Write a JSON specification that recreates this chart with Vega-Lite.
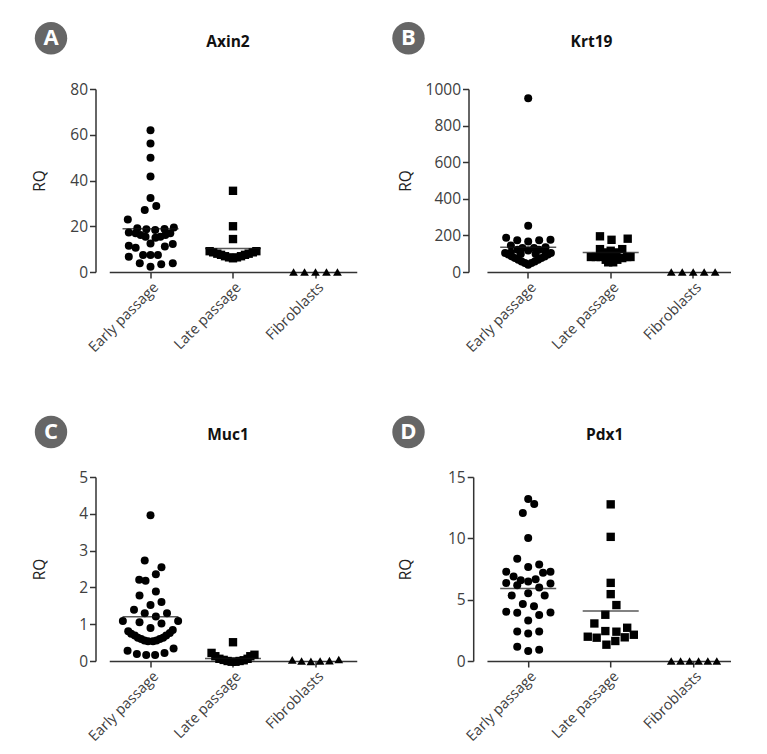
{"$schema":"https://vega.github.io/schema/vega-lite/v6.json","background":"white","padding":{"left":32.5,"top":22,"right":0,"bottom":0},"bounds":"flush","spacing":388,
"config":{"view":{"stroke":null},"font":"Open Sans","title":{"font":"Open Sans","fontSize":15.5,"fontWeight":"bold","color":"#111","offset":-28},
"axis":{"grid":false,"domainColor":"#333","tickColor":"#333","domainWidth":1.5,"tickWidth":1.5,"tickSize":6,"labelColor":"#404040","labelFont":"Open Sans","titleFont":"Open Sans","titleFontSize":15.5,"titleFontWeight":"normal","titleColor":"#222"},"axisX":{"labelFontSize":14.5,"labelOffset":6},"axisY":{"labelFontSize":15.5}},
"datasets":{
"axin2":[{"group":"Early passage","swarm":0,"RQ":62},{"group":"Early passage","swarm":0,"RQ":56.2},{"group":"Early passage","swarm":0,"RQ":49.9},{"group":"Early passage","swarm":0,"RQ":41.8},{"group":"Early passage","swarm":0,"RQ":32.3},{"group":"Early passage","swarm":0.07,"RQ":28.9},{"group":"Early passage","swarm":-0.07,"RQ":27.1},{"group":"Early passage","swarm":-0.275,"RQ":23},{"group":"Early passage","swarm":-0.16,"RQ":19.1},{"group":"Early passage","swarm":-0.05,"RQ":18.7},{"group":"Early passage","swarm":0.057,"RQ":18.4},{"group":"Early passage","swarm":0.17,"RQ":18.8},{"group":"Early passage","swarm":0.283,"RQ":19.4},{"group":"Early passage","swarm":-0.263,"RQ":17.3},{"group":"Early passage","swarm":-0.18,"RQ":16.9},{"group":"Early passage","swarm":-0.12,"RQ":16.2},{"group":"Early passage","swarm":-0.06,"RQ":15.4},{"group":"Early passage","swarm":0.06,"RQ":15},{"group":"Early passage","swarm":0.12,"RQ":15.4},{"group":"Early passage","swarm":0.18,"RQ":16.2},{"group":"Early passage","swarm":0.24,"RQ":16.9},{"group":"Early passage","swarm":0,"RQ":12.5},{"group":"Early passage","swarm":-0.263,"RQ":11.5},{"group":"Early passage","swarm":-0.18,"RQ":10.6},{"group":"Early passage","swarm":0.174,"RQ":11.1},{"group":"Early passage","swarm":0.27,"RQ":12.2},{"group":"Early passage","swarm":-0.09,"RQ":7.4},{"group":"Early passage","swarm":0,"RQ":7.4},{"group":"Early passage","swarm":0.09,"RQ":7.4},{"group":"Early passage","swarm":-0.263,"RQ":6.7},{"group":"Early passage","swarm":-0.13,"RQ":3.8},{"group":"Early passage","swarm":0,"RQ":2.3},{"group":"Early passage","swarm":0.13,"RQ":3.4},{"group":"Early passage","swarm":0.27,"RQ":3.8},
{"group":"Late passage","swarm":0,"RQ":35.5},{"group":"Late passage","swarm":0,"RQ":20},{"group":"Late passage","swarm":0,"RQ":14.4},{"group":"Late passage","swarm":-0.283,"RQ":9.1},{"group":"Late passage","swarm":-0.24,"RQ":8.6},{"group":"Late passage","swarm":-0.19,"RQ":8},{"group":"Late passage","swarm":-0.145,"RQ":7.5},{"group":"Late passage","swarm":-0.097,"RQ":6.9},{"group":"Late passage","swarm":-0.048,"RQ":6.4},{"group":"Late passage","swarm":0,"RQ":6},{"group":"Late passage","swarm":0.048,"RQ":6.4},{"group":"Late passage","swarm":0.097,"RQ":6.9},{"group":"Late passage","swarm":0.145,"RQ":7.5},{"group":"Late passage","swarm":0.19,"RQ":8},{"group":"Late passage","swarm":0.24,"RQ":8.6},{"group":"Late passage","swarm":0.283,"RQ":9.1},
{"group":"Fibroblasts","swarm":-0.266,"RQ":0},{"group":"Fibroblasts","swarm":-0.133,"RQ":0},{"group":"Fibroblasts","swarm":0,"RQ":0},{"group":"Fibroblasts","swarm":0.133,"RQ":0},{"group":"Fibroblasts","swarm":0.266,"RQ":0}],
"krt19":[{"group":"Early passage","swarm":0,"RQ":949},{"group":"Early passage","swarm":0,"RQ":253},{"group":"Early passage","swarm":-0.267,"RQ":187},{"group":"Early passage","swarm":-0.133,"RQ":173},{"group":"Early passage","swarm":0,"RQ":167},{"group":"Early passage","swarm":0.133,"RQ":173},{"group":"Early passage","swarm":0.27,"RQ":176},{"group":"Early passage","swarm":-0.21,"RQ":145},{"group":"Early passage","swarm":0.21,"RQ":135},{"group":"Early passage","swarm":-0.07,"RQ":131},{"group":"Early passage","swarm":0.07,"RQ":131},{"group":"Early passage","swarm":-0.13,"RQ":122},{"group":"Early passage","swarm":0.13,"RQ":122},{"group":"Early passage","swarm":0,"RQ":118},{"group":"Early passage","swarm":-0.21,"RQ":107},{"group":"Early passage","swarm":0.21,"RQ":107},{"group":"Early passage","swarm":-0.09,"RQ":98},{"group":"Early passage","swarm":0.09,"RQ":98},{"group":"Early passage","swarm":-0.28,"RQ":104},{"group":"Early passage","swarm":0.275,"RQ":104},{"group":"Early passage","swarm":-0.24,"RQ":95},{"group":"Early passage","swarm":0.24,"RQ":95},{"group":"Early passage","swarm":-0.2,"RQ":85},{"group":"Early passage","swarm":0.2,"RQ":85},{"group":"Early passage","swarm":-0.16,"RQ":76},{"group":"Early passage","swarm":0.16,"RQ":76},{"group":"Early passage","swarm":-0.12,"RQ":67},{"group":"Early passage","swarm":0.12,"RQ":67},{"group":"Early passage","swarm":-0.08,"RQ":58},{"group":"Early passage","swarm":0.08,"RQ":58},{"group":"Early passage","swarm":-0.04,"RQ":49},{"group":"Early passage","swarm":0.04,"RQ":49},{"group":"Early passage","swarm":0,"RQ":40},
{"group":"Late passage","swarm":-0.13,"RQ":195},{"group":"Late passage","swarm":0.01,"RQ":176},{"group":"Late passage","swarm":0.206,"RQ":182},{"group":"Late passage","swarm":-0.13,"RQ":125},{"group":"Late passage","swarm":0.14,"RQ":125},{"group":"Late passage","swarm":0,"RQ":116},{"group":"Late passage","swarm":0.07,"RQ":107},{"group":"Late passage","swarm":-0.06,"RQ":107},{"group":"Late passage","swarm":-0.24,"RQ":82},{"group":"Late passage","swarm":-0.18,"RQ":82},{"group":"Late passage","swarm":-0.12,"RQ":82},{"group":"Late passage","swarm":-0.06,"RQ":67},{"group":"Late passage","swarm":-0.03,"RQ":53},{"group":"Late passage","swarm":0.03,"RQ":53},{"group":"Late passage","swarm":0.08,"RQ":67},{"group":"Late passage","swarm":0.14,"RQ":76},{"group":"Late passage","swarm":0.2,"RQ":82},{"group":"Late passage","swarm":0.24,"RQ":82},{"group":"Late passage","swarm":0,"RQ":85},
{"group":"Fibroblasts","swarm":-0.266,"RQ":0},{"group":"Fibroblasts","swarm":-0.133,"RQ":0},{"group":"Fibroblasts","swarm":0,"RQ":0},{"group":"Fibroblasts","swarm":0.133,"RQ":0},{"group":"Fibroblasts","swarm":0.266,"RQ":0}],
"muc1":[{"group":"Early passage","swarm":0,"RQ":3.96},{"group":"Early passage","swarm":-0.07,"RQ":2.73},{"group":"Early passage","swarm":0.133,"RQ":2.55},{"group":"Early passage","swarm":0.065,"RQ":2.36},{"group":"Early passage","swarm":-0.137,"RQ":2.21},{"group":"Early passage","swarm":-0.06,"RQ":2.18},{"group":"Early passage","swarm":0.065,"RQ":1.89},{"group":"Early passage","swarm":-0.133,"RQ":1.78},{"group":"Early passage","swarm":0.133,"RQ":1.6},{"group":"Early passage","swarm":0,"RQ":1.52},{"group":"Early passage","swarm":-0.2,"RQ":1.39},{"group":"Early passage","swarm":-0.07,"RQ":1.3},{"group":"Early passage","swarm":0.2,"RQ":1.3},{"group":"Early passage","swarm":0.065,"RQ":1.21},{"group":"Early passage","swarm":-0.335,"RQ":1.09},{"group":"Early passage","swarm":-0.133,"RQ":1.05},{"group":"Early passage","swarm":0.133,"RQ":1.02},{"group":"Early passage","swarm":0.335,"RQ":1.09},{"group":"Early passage","swarm":0,"RQ":0.9},{"group":"Early passage","swarm":-0.27,"RQ":0.81},{"group":"Early passage","swarm":-0.234,"RQ":0.74},{"group":"Early passage","swarm":-0.19,"RQ":0.69},{"group":"Early passage","swarm":-0.153,"RQ":0.63},{"group":"Early passage","swarm":-0.113,"RQ":0.6},{"group":"Early passage","swarm":-0.073,"RQ":0.56},{"group":"Early passage","swarm":-0.03,"RQ":0.54},{"group":"Early passage","swarm":0.03,"RQ":0.54},{"group":"Early passage","swarm":0.073,"RQ":0.56},{"group":"Early passage","swarm":0.113,"RQ":0.6},{"group":"Early passage","swarm":0.153,"RQ":0.63},{"group":"Early passage","swarm":0.19,"RQ":0.69},{"group":"Early passage","swarm":0.234,"RQ":0.76},{"group":"Early passage","swarm":0.27,"RQ":0.84},{"group":"Early passage","swarm":-0.278,"RQ":0.28},{"group":"Early passage","swarm":-0.165,"RQ":0.19},{"group":"Early passage","swarm":-0.052,"RQ":0.16},{"group":"Early passage","swarm":0.056,"RQ":0.16},{"group":"Early passage","swarm":0.17,"RQ":0.22},{"group":"Early passage","swarm":0.28,"RQ":0.34},
{"group":"Late passage","swarm":0,"RQ":0.51},{"group":"Late passage","swarm":-0.26,"RQ":0.22},{"group":"Late passage","swarm":-0.214,"RQ":0.13},{"group":"Late passage","swarm":0.26,"RQ":0.17},{"group":"Late passage","swarm":0.21,"RQ":0.13},{"group":"Late passage","swarm":-0.165,"RQ":0.06},{"group":"Late passage","swarm":-0.113,"RQ":0.03},{"group":"Late passage","swarm":-0.065,"RQ":0},{"group":"Late passage","swarm":-0.016,"RQ":-0.02},{"group":"Late passage","swarm":0.03,"RQ":-0.02},{"group":"Late passage","swarm":0.08,"RQ":0},{"group":"Late passage","swarm":0.13,"RQ":0.02},{"group":"Late passage","swarm":0.177,"RQ":0.06},
{"group":"Fibroblasts","swarm":-0.282,"RQ":0.03},{"group":"Fibroblasts","swarm":-0.169,"RQ":0},{"group":"Fibroblasts","swarm":-0.056,"RQ":-0.01},{"group":"Fibroblasts","swarm":0.056,"RQ":0},{"group":"Fibroblasts","swarm":0.169,"RQ":0.01},{"group":"Fibroblasts","swarm":0.282,"RQ":0.04}],
"pdx1":[{"group":"Early passage","swarm":0,"RQ":13.2},{"group":"Early passage","swarm":0.073,"RQ":12.8},{"group":"Early passage","swarm":-0.065,"RQ":12.07},{"group":"Early passage","swarm":0,"RQ":10.03},{"group":"Early passage","swarm":-0.133,"RQ":8.33},{"group":"Early passage","swarm":0.133,"RQ":7.86},{"group":"Early passage","swarm":0,"RQ":7.67},{"group":"Early passage","swarm":-0.266,"RQ":7.27},{"group":"Early passage","swarm":0.27,"RQ":7.27},{"group":"Early passage","swarm":0.18,"RQ":7.19},{"group":"Early passage","swarm":-0.177,"RQ":6.89},{"group":"Early passage","swarm":-0.09,"RQ":6.59},{"group":"Early passage","swarm":0,"RQ":6.48},{"group":"Early passage","swarm":0.09,"RQ":6.67},{"group":"Early passage","swarm":-0.266,"RQ":6.35},{"group":"Early passage","swarm":0.27,"RQ":6.32},{"group":"Early passage","swarm":-0.133,"RQ":6.18},{"group":"Early passage","swarm":0.133,"RQ":5.99},{"group":"Early passage","swarm":0,"RQ":5.53},{"group":"Early passage","swarm":-0.2,"RQ":5.34},{"group":"Early passage","swarm":0.2,"RQ":5.34},{"group":"Early passage","swarm":-0.065,"RQ":4.64},{"group":"Early passage","swarm":0.07,"RQ":4.47},{"group":"Early passage","swarm":-0.266,"RQ":4.01},{"group":"Early passage","swarm":-0.133,"RQ":3.93},{"group":"Early passage","swarm":0.133,"RQ":3.74},{"group":"Early passage","swarm":0.27,"RQ":3.96},{"group":"Early passage","swarm":0,"RQ":3.31},{"group":"Early passage","swarm":-0.133,"RQ":2.41},{"group":"Early passage","swarm":0,"RQ":2.25},{"group":"Early passage","swarm":0.133,"RQ":2.41},{"group":"Early passage","swarm":-0.133,"RQ":1.17},{"group":"Early passage","swarm":0,"RQ":0.81},{"group":"Early passage","swarm":0.133,"RQ":0.92},
{"group":"Late passage","swarm":0,"RQ":12.77},{"group":"Late passage","swarm":0,"RQ":10.12},{"group":"Late passage","swarm":0,"RQ":6.37},{"group":"Late passage","swarm":0,"RQ":5.45},{"group":"Late passage","swarm":0.069,"RQ":4.56},{"group":"Late passage","swarm":-0.065,"RQ":3.77},{"group":"Late passage","swarm":-0.198,"RQ":3.06},{"group":"Late passage","swarm":0.2,"RQ":2.71},{"group":"Late passage","swarm":-0.065,"RQ":2.44},{"group":"Late passage","swarm":0.069,"RQ":2.39},{"group":"Late passage","swarm":-0.278,"RQ":1.98},{"group":"Late passage","swarm":-0.17,"RQ":1.9},{"group":"Late passage","swarm":0.17,"RQ":1.93},{"group":"Late passage","swarm":0.28,"RQ":2.14},{"group":"Late passage","swarm":0.056,"RQ":1.63},{"group":"Late passage","swarm":-0.052,"RQ":1.33},
{"group":"Fibroblasts","swarm":-0.266,"RQ":0},{"group":"Fibroblasts","swarm":-0.153,"RQ":0},{"group":"Fibroblasts","swarm":-0.044,"RQ":0},{"group":"Fibroblasts","swarm":0.065,"RQ":0},{"group":"Fibroblasts","swarm":0.177,"RQ":0},{"group":"Fibroblasts","swarm":0.286,"RQ":0}],
"axin2m":[{"group":"Early passage","median":18.9},{"group":"Late passage","median":10.3}],
"krt19m":[{"group":"Early passage","median":135},{"group":"Late passage","median":107}],
"muc1m":[{"group":"Early passage","median":1.2},{"group":"Late passage","median":0.07}],
"pdx1m":[{"group":"Early passage","median":5.91},{"group":"Late passage","median":4.07}]
},
"vconcat":[
{"hconcat":[
{"width":265,"height":183,"title":{"text":"Axin2"},
"layer":[
{"data":{"name":"axin2"},"mark":{"type":"point","filled":true,"opacity":1,"color":"black"},"encoding":{"x":{"field":"group","type":"nominal","sort":["Early passage","Late passage","Fibroblasts"],"scale":{"domain":["Early passage","Late passage","Fibroblasts"],"range":[13.75,261.25],"paddingInner":0,"paddingOuter":0},"axis":{"title":null,"labelAngle":-45,"labelAlign":"right","labelBaseline":"middle","labelPadding":7}},"xOffset":{"field":"swarm","type":"quantitative","scale":{"domain":[-0.5,0.5]}},"y":{"field":"RQ","type":"quantitative","scale":{"domain":[0,80],"nice":false},"axis":{"title":"RQ","values":[0,20,40,60,80],"tickCount":5,"titleX":-48}},"shape":{"field":"group","type":"nominal","scale":{"domain":["Early passage","Late passage","Fibroblasts"],"range":["circle","square","triangle-up"]},"legend":null},"size":{"field":"group","type":"nominal","scale":{"domain":["Early passage","Late passage","Fibroblasts"],"range":[64,76,68]},"legend":null}}},
{"data":{"name":"axin2m"},"mark":{"type":"tick","color":"#111","thickness":1.5,"size":56},"encoding":{"x":{"field":"group","type":"nominal"},"y":{"field":"median","type":"quantitative"}}},
{"data":{"values":[{"letter":"A"}]},"mark":{"type":"point","filled":true,"opacity":1,"color":"#666","size":1050,"shape":"circle"},"encoding":{"x":{"value":-44.5},"y":{"value":-50.7}}},
{"data":{"values":[{"letter":"A"}]},"mark":{"type":"text","color":"white","fontSize":22,"fontWeight":"bold","font":"Open Sans"},"encoding":{"x":{"value":-44.5},"y":{"value":-50.7},"text":{"field":"letter"}}}
]},
{"width":262,"height":183,"title":{"text":"Krt19","dx":-8},
"layer":[
{"data":{"name":"krt19"},"mark":{"type":"point","filled":true,"opacity":1,"color":"black"},"encoding":{"x":{"field":"group","type":"nominal","sort":["Early passage","Late passage","Fibroblasts"],"scale":{"domain":["Early passage","Late passage","Fibroblasts"],"range":[18.45,265.95],"paddingInner":0,"paddingOuter":0},"axis":{"title":null,"labelAngle":-45,"labelAlign":"right","labelBaseline":"middle","labelPadding":7}},"xOffset":{"field":"swarm","type":"quantitative","scale":{"domain":[-0.5,0.5]}},"y":{"field":"RQ","type":"quantitative","scale":{"domain":[0,1000],"nice":false},"axis":{"title":"RQ","format":"d","values":[0,200,400,600,800,1000],"tickCount":6,"titleX":-55}},"shape":{"field":"group","type":"nominal","scale":{"domain":["Early passage","Late passage","Fibroblasts"],"range":["circle","square","triangle-up"]},"legend":null},"size":{"field":"group","type":"nominal","scale":{"domain":["Early passage","Late passage","Fibroblasts"],"range":[64,76,68]},"legend":null}}},
{"data":{"name":"krt19m"},"mark":{"type":"tick","color":"#111","thickness":1.5,"size":56},"encoding":{"x":{"field":"group","type":"nominal"},"y":{"field":"median","type":"quantitative"}}},
{"data":{"values":[{"letter":"B"}]},"mark":{"type":"point","filled":true,"opacity":1,"color":"#666","size":1050,"shape":"circle"},"encoding":{"x":{"value":-60},"y":{"value":-50.7}}},
{"data":{"values":[{"letter":"B"}]},"mark":{"type":"text","color":"white","fontSize":22,"fontWeight":"bold","font":"Open Sans"},"encoding":{"x":{"value":-60},"y":{"value":-50.7},"text":{"field":"letter"}}}
]}
],"bounds":"flush","spacing":108},
{"hconcat":[
{"width":265,"height":184,"title":{"text":"Muc1"},
"layer":[
{"data":{"name":"muc1"},"mark":{"type":"point","filled":true,"opacity":1,"color":"black"},"encoding":{"x":{"field":"group","type":"nominal","sort":["Early passage","Late passage","Fibroblasts"],"scale":{"domain":["Early passage","Late passage","Fibroblasts"],"range":[13.75,261.25],"paddingInner":0,"paddingOuter":0},"axis":{"title":null,"labelAngle":-45,"labelAlign":"right","labelBaseline":"middle","labelPadding":7}},"xOffset":{"field":"swarm","type":"quantitative","scale":{"domain":[-0.5,0.5]}},"y":{"field":"RQ","type":"quantitative","scale":{"domain":[0,5],"nice":false},"axis":{"title":"RQ","values":[0,1,2,3,4,5],"tickCount":6,"titleX":-48}},"shape":{"field":"group","type":"nominal","scale":{"domain":["Early passage","Late passage","Fibroblasts"],"range":["circle","square","triangle-up"]},"legend":null},"size":{"field":"group","type":"nominal","scale":{"domain":["Early passage","Late passage","Fibroblasts"],"range":[64,76,68]},"legend":null}}},
{"data":{"name":"muc1m"},"mark":{"type":"tick","color":"#111","thickness":1.5,"size":56},"encoding":{"x":{"field":"group","type":"nominal"},"y":{"field":"median","type":"quantitative"}}},
{"data":{"values":[{"letter":"C"}]},"mark":{"type":"point","filled":true,"opacity":1,"color":"#666","size":1050,"shape":"circle"},"encoding":{"x":{"value":-44.5},"y":{"value":-45}}},
{"data":{"values":[{"letter":"C"}]},"mark":{"type":"text","color":"white","fontSize":22,"fontWeight":"bold","font":"Open Sans"},"encoding":{"x":{"value":-44.5},"y":{"value":-45},"text":{"field":"letter"}}}
]},
{"width":257,"height":184,"title":{"text":"Pdx1","dx":3},
"layer":[
{"data":{"name":"pdx1"},"mark":{"type":"point","filled":true,"opacity":1,"color":"black"},"encoding":{"x":{"field":"group","type":"nominal","sort":["Early passage","Late passage","Fibroblasts"],"scale":{"domain":["Early passage","Late passage","Fibroblasts"],"range":[13.75,261.25],"paddingInner":0,"paddingOuter":0},"axis":{"title":null,"labelAngle":-45,"labelAlign":"right","labelBaseline":"middle","labelPadding":7}},"xOffset":{"field":"swarm","type":"quantitative","scale":{"domain":[-0.5,0.5]}},"y":{"field":"RQ","type":"quantitative","scale":{"domain":[0,15],"nice":false},"axis":{"title":"RQ","values":[0,5,10,15],"tickCount":4,"titleX":-60}},"shape":{"field":"group","type":"nominal","scale":{"domain":["Early passage","Late passage","Fibroblasts"],"range":["circle","square","triangle-up"]},"legend":null},"size":{"field":"group","type":"nominal","scale":{"domain":["Early passage","Late passage","Fibroblasts"],"range":[64,76,68]},"legend":null}}},
{"data":{"name":"pdx1m"},"mark":{"type":"tick","color":"#111","thickness":1.5,"size":56},"encoding":{"x":{"field":"group","type":"nominal"},"y":{"field":"median","type":"quantitative"}}},
{"data":{"values":[{"letter":"D"}]},"mark":{"type":"point","filled":true,"opacity":1,"color":"#666","size":1050,"shape":"circle"},"encoding":{"x":{"value":-64.7},"y":{"value":-45}}},
{"data":{"values":[{"letter":"D"}]},"mark":{"type":"text","color":"white","fontSize":22,"fontWeight":"bold","font":"Open Sans"},"encoding":{"x":{"value":-64.7},"y":{"value":-45},"text":{"field":"letter"}}}
]}
],"bounds":"flush","spacing":112.7}
]}
